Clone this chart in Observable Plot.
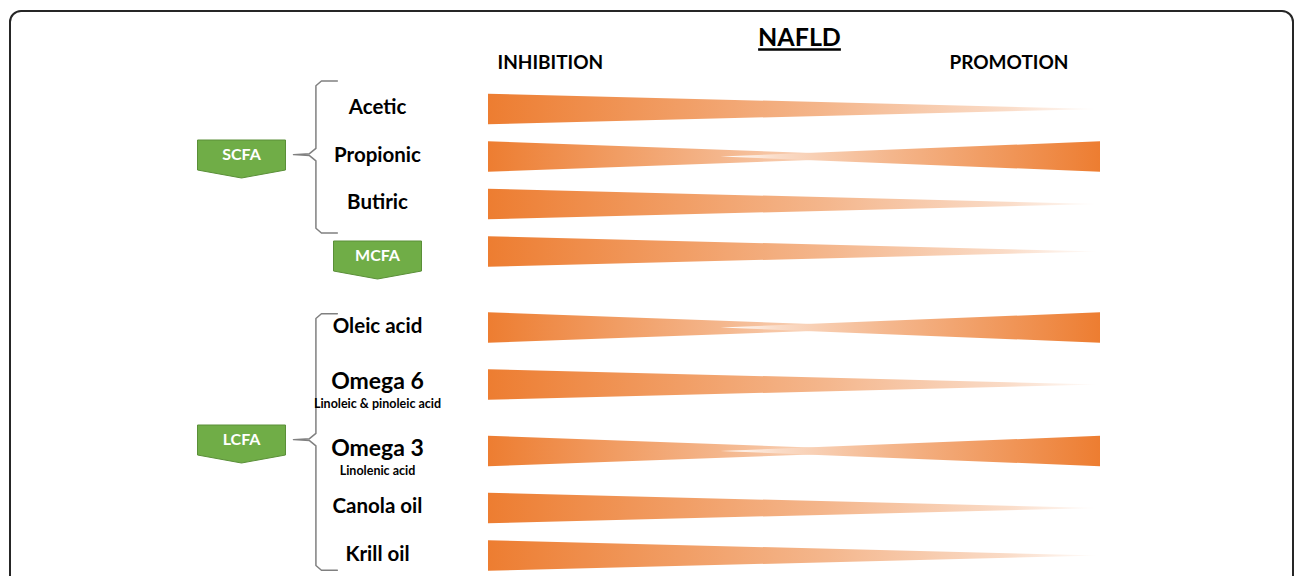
<!DOCTYPE html>
<html><head><meta charset="utf-8">
<script src="https://cdn.jsdelivr.net/npm/d3@7"></script>
<script src="https://cdn.jsdelivr.net/npm/@observablehq/plot@0.6"></script>
<style>
html,body{margin:0;padding:0;background:#fff;overflow:hidden;}
#wrap{position:relative;width:1296px;height:576px;}
#chart{position:absolute;left:0;top:0;}
#frame{position:absolute;left:9px;top:10px;width:1285px;height:640px;border:2px solid #262626;border-radius:12px;box-sizing:border-box;z-index:2;pointer-events:none;}
</style></head><body>
<div id="wrap"><div id="chart"></div><div id="frame"></div></div>
<script>
// ---- data ----
const compounds = ["Acetic","Propionic","Butiric","MCFA","Oleic acid","Omega 6","Omega 3","Canola oil","Krill oil"];
const families  = ["SCFA","SCFA","SCFA","MCFA","LCFA","LCFA","LCFA","LCFA","LCFA"];
const subLabels = [null,null,null,null,null,"Linoleic & pinoleic acid","Linolenic acid",null,null];
const inhibits  = [1,1,1,1,1,1,1,1,1];
const promotes  = [0,1,0,0,1,0,1,0,0];
const titleText = "NAFLD";
const effectLabels = ["INHIBITION","PROMOTION"];

// ---- layout parameters (slot units / scale fractions) ----
const L = {gap: 0.6, subExtra: 0.4, half: 0.32, inhReach: 0.69, proReach: 0.62,
           bracePad: {SCFA: 0.6, LCFA: 0.3}};

// row slots derived from structure
const famCount = d3.rollup(families, v => v.length, d => d);
const slots = [];
compounds.forEach((c, i) => {
  if (i === 0) { slots.push(0); return; }
  let d = 1 + L.subExtra * ((subLabels[i-1] ? 1 : 0) + (subLabels[i] ? 1 : 0)) / 2;
  if (families[i] !== families[i-1] && famCount.get(families[i]) > 1) d += L.gap;
  slots.push(slots[i-1] + d);
});
const rows = compounds.map((c, i) => ({name: c, family: families[i], sub: subLabels[i], y: slots[i], inh: inhibits[i], pro: promotes[i]}));

// wedges
const inhW = [], proW = [];
rows.forEach(r => {
  const both = r.inh && r.pro;
  if (r.inh) {
    inhW.push({id: r.name, x: 0, y1: r.y - L.half, y2: r.y + L.half});
    inhW.push({id: r.name, x: both ? L.inhReach : 1, y1: r.y, y2: r.y});
  }
  if (r.pro) {
    proW.push({id: r.name, x: 1 - L.proReach, y1: r.y, y2: r.y});
    proW.push({id: r.name, x: 1, y1: r.y - L.half, y2: r.y + L.half});
  }
});

// families: groups (braced) and singletons
const famList = Array.from(new Set(families)).map(f => {
  const rs = rows.filter(r => r.family === f);
  return {name: f, first: rs[0].y, last: rs[rs.length-1].y, mid: (rs[0].y + rs[rs.length-1].y) / 2, n: rs.length};
});
const braced = famList.filter(f => f.n > 1);
const single = famList.filter(f => f.n === 1);

// brace geometry (x in scale fraction, y in slots)
const bx = {end: -0.247, corner: -0.273, v: -0.282, inner: -0.2925, tip: -0.3186};
const braceLines = [];
braced.forEach(g => {
  const p = L.bracePad[g.name];
  const T = g.first - p, B = g.last + p, M = g.mid - 0.05;
  [[bx.end, T],[bx.corner, T],[bx.v, T + 0.1],[bx.v, M - 0.13],[bx.inner, M - 0.02],[bx.tip, M],
   [bx.inner, M + 0.02],[bx.v, M + 0.13],[bx.v, B - 0.1],[bx.corner, B],[bx.end, B]]
    .forEach(([x, y]) => braceLines.push({g: g.name, x, y}));
});

const connector = {draw(ctx) {
  ctx.moveTo(-44, -15); ctx.lineTo(44, -15); ctx.lineTo(44, 15);
  ctx.lineTo(0, 23); ctx.lineTo(-44, 15); ctx.closePath();
}};

const labelRows = rows.filter(r => r.name !== r.family);
const orange = "#ED7D31", green = "#70AD47", greenDark = "#5A8F38";

const svg = Plot.plot({
  width: 1296, height: 576,
  marginLeft: 488, marginRight: 196, marginTop: 0, marginBottom: 0,
  style: {background: "transparent", fontFamily: "Lato, 'Open Sans', sans-serif", color: "#000"},
  x: {domain: [0, 1], axis: null},
  y: {domain: [-109/47.5, (576-109)/47.5], reverse: true, axis: null},
  marks: [
    Plot.areaY(inhW, {x: "x", y1: "y1", y2: "y2", z: "id", fill: "url(#gradInh)"}),
    Plot.areaY(proW, {x: "x", y1: "y1", y2: "y2", z: "id", fill: "url(#gradPro)"}),
    Plot.line(braceLines, {x: "x", y: "y", z: "g", stroke: "#808080", strokeWidth: 1.5}),
    Plot.dot(braced, {x: 0, y: "mid", dx: -247, dy: -2, symbol: connector, fill: green, stroke: greenDark, strokeWidth: 1}),
    Plot.text(braced, {x: 0, y: "mid", dx: -247, dy: -2, text: "name", fill: "white", fontWeight: "bold", fontSize: 16}),
    Plot.dot(single, {x: 0, y: "mid", dx: -111, dy: 4, symbol: connector, fill: green, stroke: greenDark, strokeWidth: 1}),
    Plot.text(single, {x: 0, y: "mid", dx: -111, dy: 4, text: "name", fill: "white", fontWeight: "bold", fontSize: 16}),
    Plot.text(labelRows.filter(r => !r.sub), {x: 0, y: "y", dx: -111, dy: -2, text: "name", fontWeight: "bold", fontSize: 20.5, fill: "#000"}),
    Plot.text(labelRows.filter(r => r.sub), {x: 0, y: "y", dx: -111, dy: -3, text: "name", fontWeight: "bold", fontSize: 23, fill: "#000"}),
    Plot.text(labelRows.filter(r => r.sub), {x: 0, y: "y", dx: -111, dy: 19, text: "sub", fontWeight: "bold", fontSize: 12.5, fill: "#000"}),
    Plot.text([titleText], {x: 0.5, frameAnchor: "top", dy: 28, dx: 5, text: d => d, fontWeight: "bold", fontSize: 25, fill: "#000"}),
    Plot.text([effectLabels[0]], {x: 0, frameAnchor: "top", dy: 55, dx: 9, textAnchor: "start", text: d => d, fontWeight: "bold", fontSize: 19, fill: "#000"}),
    Plot.text([effectLabels[1]], {x: 1, frameAnchor: "top", dy: 55, dx: -32, textAnchor: "end", text: d => d, fontWeight: "bold", fontSize: 19, fill: "#000"})
  ]
});

const defs = d3.select(svg).insert("defs", ":first-child");
function grad(id, x1, x2) {
  const g = defs.append("linearGradient").attr("id", id).attr("x1", x1).attr("x2", x2).attr("y1", 0).attr("y2", 0);
  [[0, orange], [0.55, "#F4B68C"], [0.85, "#FADCC8"], [1, "#ffffff"]]
    .forEach(([o, c]) => g.append("stop").attr("offset", o).attr("stop-color", c));
}
grad("gradInh", 0, 1);
grad("gradPro", 1, 0);

d3.select(svg).selectAll("text").filter(function() { return this.textContent === titleText; })
  .style("text-decoration", "underline");

document.getElementById("chart").appendChild(svg);
</script>
</body></html>
